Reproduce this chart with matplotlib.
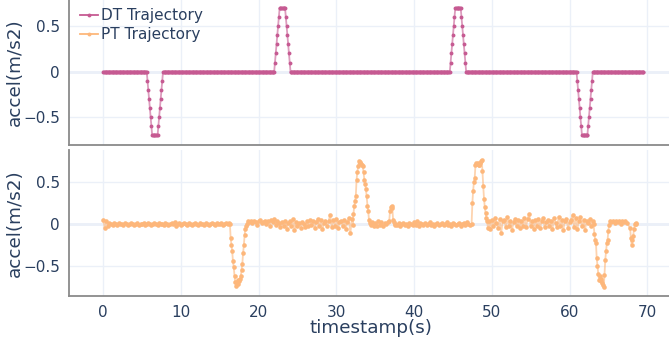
import matplotlib
matplotlib.use('Agg')
import matplotlib.pyplot as plt
from matplotlib.lines import Line2D
import numpy as np

# desired trajectory: 0.1 s samples, 20-sample accel pulse at each event
dt_step = 0.1
dt_end = 69.5
dt_pulse = [0.1, 0.2, 0.3, 0.4, 0.5, 0.6, 0.7, 0.7, 0.7, 0.7,
            0.7, 0.7, 0.7, 0.7, 0.6, 0.5, 0.4, 0.3, 0.2, 0.1]
dt_event_starts = [5.7, 22.1, 44.7, 61.0]
dt_event_signs = [-1, 1, 1, -1]

# measured trajectory, stored as (start time, step, values) pieces
pt_quiet_a = [0.05, -0.05, 0.03, -0.02, 0.01, 0.0, -0.01, 0.01, 0.0, -0.01,
              0.01, 0.0, 0.0, -0.01, 0.01, 0.0, -0.01, 0.0, 0.01, 0.0,
              -0.01, 0.0, 0.01, -0.01, 0.0, 0.0, 0.01, -0.01, 0.0, 0.01,
              0.0, -0.01, 0.0, 0.01, 0.0, -0.01, 0.01, 0.0, 0.0, -0.01,
              0.01, 0.0, -0.01, 0.0, 0.01, 0.0, 0.02, -0.02, 0.0, 0.01,
              -0.01, 0.0, 0.01, 0.0, -0.01, 0.01, 0.0, -0.01, 0.0, 0.01,
              0.0, -0.01, 0.01, 0.0, 0.0, -0.01, 0.01, 0.0, -0.01, 0.0,
              0.01, 0.0, -0.01, 0.01, 0.0, 0.0, 0.01, -0.01, 0.0, 0.01,
              0.0, 0.01]
pt_dip_a = [0.0, -0.17, -0.25, -0.33, -0.45, -0.52, -0.63, -0.70, -0.75, -0.70,
            -0.72, -0.67, -0.68, -0.66, -0.63, -0.55, -0.48, -0.35, -0.25, -0.13,
            -0.06, -0.03, 0.0, 0.03]
pt_noisy_a = [0.02, 0.03, 0.01, 0.04, 0.02, -0.01, 0.03, 0.05, 0.01, 0.02, 0.04,
              0.0, 0.03, -0.02, 0.05, 0.02, 0.06, -0.01, 0.03, 0.01, -0.04,
              0.02, -0.03, 0.04, -0.06, 0.01, 0.03, -0.02, 0.06, -0.07, 0.02,
              -0.03, 0.01, -0.05, 0.02, 0.0, -0.04, 0.03, -0.02, 0.05, -0.01,
              0.04, -0.05, 0.02, 0.06, -0.03, 0.05, -0.06, 0.01, 0.04, -0.02,
              0.03, 0.11, -0.04, 0.05, -0.02, 0.06, -0.05, 0.02, 0.04, -0.03,
              0.05, -0.06, 0.02, 0.07, -0.11, 0.06]
pt_peak_a = [-0.01, 0.12, 0.21, 0.27, 0.33, 0.53, 0.62, 0.69, 0.75, 0.74,
             0.73, 0.72, 0.71, 0.69, 0.62, 0.53, 0.48, 0.42, 0.33, 0.22,
             0.15, 0.05, 0.01, -0.01]
pt_quiet_b = [0.02, -0.03, 0.01, -0.02, 0.03, -0.01, 0.02, -0.03, 0.01, 0.0, 0.02]
pt_bump = [0.03, 0.15, 0.20, 0.21, 0.19, 0.05, 0.02, -0.01]
pt_quiet_c = [0.0, -0.01, 0.01, -0.02, 0.0, 0.01, -0.01, 0.0, -0.02, 0.01,
              0.0, -0.01, 0.02, -0.01, 0.03, -0.02, 0.01, 0.0, -0.01, 0.01,
              -0.01, 0.0, 0.02, -0.01, 0.0, -0.02, 0.0, 0.01, -0.01, 0.0,
              0.01, -0.01, 0.0, 0.02, -0.01, 0.0, -0.02, 0.01, 0.0, -0.01,
              0.0, 0.01, -0.02, 0.0, 0.01, -0.01, 0.02, 0.0, -0.01, 0.0]
pt_peak_b = [0.25, 0.40, 0.50, 0.55, 0.71, 0.73, 0.72, 0.73, 0.71, 0.71,
             0.73, 0.75, 0.77, 0.63, 0.45, 0.30, 0.20, 0.13, 0.07, 0.03,
             -0.05]
pt_noisy_b = [0.04, -0.06, 0.05, -0.03, 0.07, 0.01, -0.05, 0.06, -0.11, 0.03,
              0.05, -0.04, 0.08, -0.02, 0.04, -0.07, 0.02, 0.06, -0.03, 0.05,
              -0.05, 0.03, -0.02, 0.07, -0.04, 0.06, 0.12, -0.03, 0.04, -0.06,
              0.05, -0.02, 0.06, -0.05, 0.03, 0.07, -0.04, 0.02, 0.05, -0.03,
              0.04, -0.06, 0.07, 0.01, -0.04, 0.08, -0.02, 0.05, -0.07, 0.03,
              0.06, -0.05, 0.02, 0.05, 0.11, -0.04, 0.07, -0.06, 0.03, 0.08,
              -0.03, 0.05, -0.07, 0.04, 0.01, 0.06, -0.02, 0.03]
pt_dip_b = [0.0, -0.12, -0.19, -0.23, -0.41, -0.51, -0.60, -0.67, -0.63, -0.69,
            -0.66, -0.71, -0.73, -0.76, -0.61, -0.43, -0.33, -0.23, -0.19, -0.08,
            -0.01, 0.03]
pt_quiet_d = [0.02, 0.04, 0.01, 0.03, 0.02, 0.04, 0.0, 0.03, 0.02, 0.04, 0.01]
pt_tail = [-0.05, -0.17, -0.25, -0.19, -0.14, -0.06, 0.0, 0.01, 0.0]

pt_pieces = [(0.0, 0.2, pt_quiet_a), (16.3, 0.1, pt_dip_a),
             (18.8, 0.2, pt_noisy_a), (32.1, 0.1, pt_peak_a),
             (34.6, 0.2, pt_quiet_b), (36.8, 0.1, pt_bump),
             (37.6, 0.2, pt_quiet_c), (47.5, 0.1, pt_peak_b),
             (49.6, 0.2, pt_noisy_b), (63.1, 0.1, pt_dip_b),
             (65.4, 0.2, pt_quiet_d), (67.8, 0.1, pt_tail)]

TEXT = '#2a3f5f'
GRID = '#ebf0f8'
DT_COLOR = '#c65a92'
PT_COLOR = '#fdb77b'


def build_dt():
    t = np.round(np.arange(0, dt_end + dt_step / 2, dt_step), 1)
    v = np.zeros(len(t))
    for start, sign in zip(dt_event_starts, dt_event_signs):
        i = int(round(start / dt_step))
        v[i:i + len(dt_pulse)] = sign * np.array(dt_pulse)
    return t, v


def build_pt():
    ts, vs = [], []
    for t0, step, vals in pt_pieces:
        ts.append(t0 + step * np.arange(len(vals)))
        vs.append(np.array(vals))
    return np.concatenate(ts), np.concatenate(vs)


def style_axes(ax, ylim):
    ax.set_xlim(-4.4, 72.8)
    ax.set_ylim(*ylim)
    ax.set_xticks(range(0, 71, 10))
    ax.set_yticks([-0.5, 0, 0.5])
    ax.set_yticklabels(['\u22120.5', '0', '0.5'])
    ax.grid(color=GRID, lw=1)
    ax.set_axisbelow(True)
    ax.axhline(0, color=GRID, lw=2, zorder=0)
    for s in ['top', 'right']:
        ax.spines[s].set_visible(False)
    for s in ['left', 'bottom']:
        ax.spines[s].set_color('#8a8a8a')
        ax.spines[s].set_linewidth(1.3)
    ax.tick_params(length=0, labelsize=11, colors=TEXT, pad=6.5)


def draw_trace(ax, t, v, color, ms):
    ax.plot(t, v, color=color, lw=1.3, alpha=0.6, zorder=2)
    ax.plot(t, v, 'o', color=color, ms=ms, mec='none', zorder=3)


fig = plt.figure(figsize=(6.69, 3.43), dpi=100)
ax1 = fig.add_axes([69 / 669, 198 / 343, 600 / 669, 145 / 343])
ax2 = fig.add_axes([69 / 669, 47 / 343, 600 / 669, 146 / 343])

style_axes(ax1, (-0.81, 0.79))
style_axes(ax2, (-0.865, 0.887))
ax1.tick_params(labelbottom=False)

dt_t, dt_v = build_dt()
pt_t, pt_v = build_pt()
draw_trace(ax1, dt_t, dt_v, DT_COLOR, 2.8)
draw_trace(ax2, pt_t, pt_v, PT_COLOR, 3.3)

handles = [Line2D([], [], color=DT_COLOR, lw=1.3, marker='o', ms=2.8, mec='none'),
           Line2D([], [], color=PT_COLOR, lw=1.3, marker='o', ms=2.8, mec='none')]
leg = ax1.legend(handles, ['DT Trajectory', 'PT Trajectory'], loc='upper left',
                 bbox_to_anchor=(11 / 600, 0.945), frameon=False, fontsize=11,
                 borderpad=0, borderaxespad=0, handlelength=1.2,
                 handletextpad=0.15, labelspacing=0.28)
for txt in leg.get_texts():
    txt.set_color(TEXT)

for ax, yc in [(ax1, 72.5), (ax2, 223)]:
    fig.text(14.5 / 669, 1 - yc / 343, 'accel(m/s2)', rotation=90,
             ha='center', va='center', fontsize=13.2, color=TEXT)
fig.text(371.5 / 669, 1 - 328 / 343, 'timestamp(s)', ha='center',
         va='center', fontsize=13.2, color=TEXT)

fig.savefig('out.png', dpi=100)
